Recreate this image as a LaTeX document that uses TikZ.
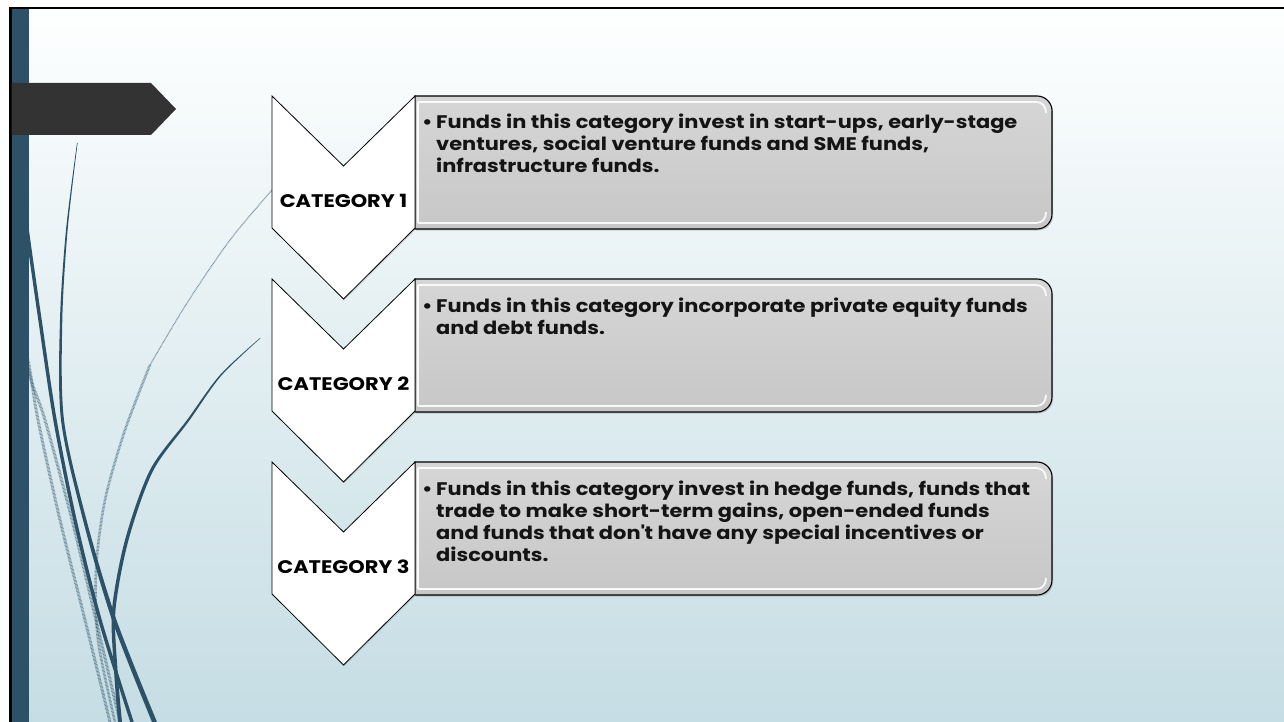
\documentclass[tikz,border=0pt]{standalone}
\usepackage{fontspec}
\setmainfont{Poppins}
\newfontfamily\widefont{Poppins}[FakeStretch=1.15]
\usetikzlibrary{shadows}

\definecolor{wisp}{RGB}{45,81,102}
\definecolor{bgtop}{RGB}{254,255,255}
\definecolor{bgbot}{RGB}{197,221,228}
\definecolor{boxtop}{RGB}{214,214,214}
\definecolor{boxbot}{RGB}{199,199,199}
\definecolor{tabgrey}{RGB}{51,51,51}
\definecolor{inktext}{RGB}{20,20,20}

\tikzset{
  boxface/.style={draw=black, line width=1.1pt, top color=boxtop, bottom color=boxbot,
    drop shadow={shadow xshift=1.2pt, shadow yshift=-1.5pt, opacity=0.35}},
  chevface/.style={draw=black, line width=0.8pt, fill=white,
    drop shadow={shadow xshift=1pt, shadow yshift=-1.2pt, opacity=0.3}},
  bevel/.style={draw=white, line width=1.8pt, opacity=0.9},
  catlabel/.style={font=\widefont\fontsize{18.2}{21}\selectfont\bfseries, text=black, inner sep=0pt},
  bodytext/.style={anchor=base west, inner sep=0pt, text=inktext},
  wispline/.style={draw=wisp, line cap=round},
  wispfill/.style={fill=wisp},
  hatched/.style={draw=wisp, opacity=0.6, dash pattern=on 0.7pt off 0.7pt}
}

% one category: #1 top edge, #2 name, #3 label, #4 description lines
\newcommand\fundrow[4]{%
  \path[boxface] (415,#1) -- (1037,#1)
    .. controls (1045.3,#1) and (1052,{#1+6.7}) .. (1052,{#1+15})
    -- (1052,{#1+118})
    .. controls (1052,{#1+126.3}) and (1045.3,{#1+133}) .. (1037,{#1+133})
    -- (415,{#1+133}) -- cycle;
  \draw[bevel] (418,{#1+6}) -- (1036,{#1+6})
    .. controls (1042,{#1+6}) and (1046,{#1+10}) .. (1046,{#1+17});
  \draw[bevel] (418,{#1+127}) -- (1036,{#1+127})
    .. controls (1042,{#1+127}) and (1046,{#1+123}) .. (1046,{#1+116});
  \draw[bevel] (418,{#1+6}) -- (418,{#1+127});
  \path[chevface] (272,#1) -- (343.5,{#1+70}) -- (415,#1) -- (415,{#1+132})
    -- (343.5,{#1+203}) -- (272,{#1+132}) -- cycle;
  \node[catlabel] (#2label) at (343.5,{#1+105}) {#3};
  \node[bodytext] (#2text) at (436,{#1+33})
    {\parbox[t]{640pt}{\widefont\fontsize{18.2}{22}\selectfont\bfseries\raggedright
      \leavevmode\llap{•\hspace{3.5pt}}#4}};
}

\begin{document}
\begin{tikzpicture}[x=1pt,y=-1pt]
  \useasboundingbox (0,0) rectangle (1284,722);
  \fill[white] (0,0) rectangle (1284,722);

  % slide background
  \shade[top color=bgtop, bottom color=bgbot] (10,8) rectangle (1284,722);

  % textured wisps
  \draw[hatched, line width=1.2pt] plot[smooth] coordinates
    {(272,190) (230,240) (187,303) (150,365)};
  \draw[hatched, line width=2.6pt] plot[smooth] coordinates
    {(150,365) (125,430) (105,500) (96,570) (98,640) (115,722)};
  \draw[hatched, line width=3pt] plot[smooth] coordinates
    {(20,330) (29,365) (38,420) (60,520) (85,620) (110,722)};
  \draw[hatched, line width=3pt] plot[smooth] coordinates
    {(22,340) (31,380) (45,420) (72,520) (96,620) (120,722)};

  % solid wisps
  \draw[wispline, line width=3.4pt] plot[smooth] coordinates
    {(22,190) (29,243) (40,320) (55,420) (75,520) (100,620) (132,722)};
  \fill[wispfill] plot[smooth] coordinates
    {(77,143) (66,230) (60,320) (61,420) (83,520) (112,620) (152,722)}
    -- plot[smooth] coordinates
    {(157,722) (116.5,620) (86.5,520) (64,420) (62.3,320) (67.6,230) (77.6,143)}
    -- cycle;
  \fill[wispfill] plot[smooth] coordinates
    {(260,338) (220,375) (187,420) (150,470) (125,540) (112,610) (114,670) (118,722)}
    -- plot[smooth] coordinates
    {(122,722) (117.5,670) (115.5,610) (128.5,540) (153,471) (189,421) (221,376) (260.4,338.3)}
    -- cycle;

  % side band and frame
  \fill[wisp] (11.5,9.3) rectangle (29,722);
  \draw[black, line width=2.4pt] (10.3,722) -- (10.3,8.2) -- (1284,8.2);

  % title tab
  \fill[tabgrey] (11.5,83) -- (151,83) -- (176,109) -- (151,135) -- (11.5,135) -- cycle;

  \fundrow{96}{catone}{CATEGORY 1}{Funds in this category invest in start-ups, early-stage\\
    ventures, social venture funds and SME funds,\\ infrastructure funds.}
  \fundrow{279}{cattwo}{CATEGORY 2}{Funds in this category incorporate private equity funds\\
    and debt funds.}
  \fundrow{462}{catthree}{CATEGORY 3}{Funds in this category invest in hedge funds, funds that\\
    trade to make short-term gains, open-ended funds\\
    and funds that don\textquotesingle t have any special incentives or\\ discounts.}
\end{tikzpicture}
\end{document}
